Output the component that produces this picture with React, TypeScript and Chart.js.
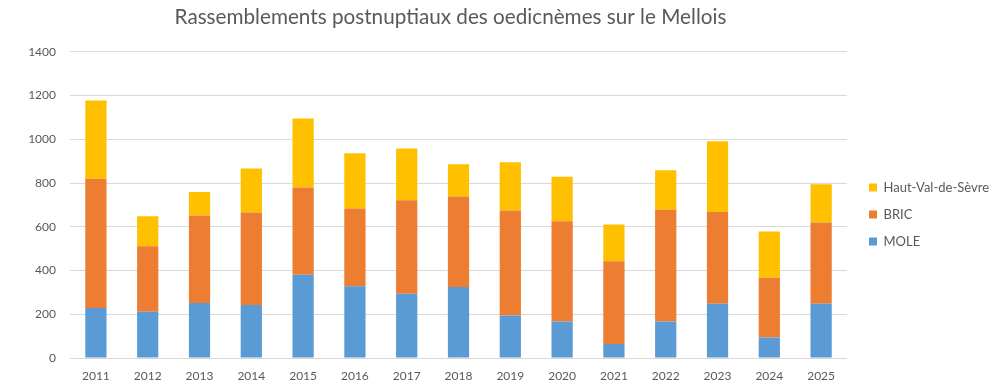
import React, { useEffect, useRef } from "react";
import { Chart, registerables } from "chart.js";

Chart.register(...registerables);

const years = ["2011","2012","2013","2014","2015","2016","2017","2018","2019","2020","2021","2022","2023","2024","2025"];
const mole = [229, 212, 252, 242, 381, 328, 294, 325, 194, 167, 64, 167, 248, 94, 248];
const bric = [591, 299, 400, 423, 399, 356, 427, 413, 481, 458, 378, 511, 420, 273, 372];
const hautVal = [357, 137, 107, 201, 315, 252, 237, 148, 220, 204, 169, 180, 323, 212, 174];
const yTicks = [0, 200, 400, 600, 800, 1000, 1200, 1400];

const nudge = {
  id: "nudge",
  afterLayout(chart: any) {
    const l = chart.legend;
    if (l) {
      l.left += 8;
      l.right += 8;
      l.top += 20;
      l.bottom += 20;
    }
    const t = chart.titleBlock;
    if (t) {
      t.left -= 8;
      t.right -= 8;
    }
  },
};

export default function App() {
  const ref = useRef<HTMLCanvasElement | null>(null);
  useEffect(() => {
    if (!ref.current) return;
    const font = "Lato, 'Open Sans', sans-serif";
    const chart = new Chart(ref.current, {
      type: "bar",
      data: {
        labels: years,
        datasets: [
          { label: "MOLE", data: mole, backgroundColor: "#5b9bd5", barPercentage: 0.41, categoryPercentage: 1 },
          { label: "BRIC", data: bric, backgroundColor: "#ed7d31", barPercentage: 0.41, categoryPercentage: 1 },
          { label: "Haut-Val-de-Sèvre", data: hautVal, backgroundColor: "#ffc000", barPercentage: 0.41, categoryPercentage: 1 },
        ],
      },
      plugins: [nudge],
      options: {
        animation: false,
        responsive: false,
        layout: { padding: { left: 0, right: 2, top: 5, bottom: 5 } },
        plugins: {
          title: {
            display: true,
            fullSize: false,
            text: "Rassemblements postnuptiaux des oedicnèmes sur le Mellois",
            color: "#595959",
            font: { family: font, size: 20.7, weight: "normal" },
            padding: { top: 0, bottom: 22 },
          },
          legend: {
            position: "right",
            reverse: true,
            labels: {
              boxWidth: 8,
              boxHeight: 8,
              padding: 14,
              color: "#595959",
              font: { family: font, size: 13 },
            },
          },
          tooltip: { enabled: false },
        },
        scales: {
          x: {
            stacked: true,
            grid: { display: false, drawTicks: false },
            border: { display: false },
            ticks: { color: "#595959", font: { family: font, size: 12 }, padding: 11 },
            afterFit: (scale: any) => {
              scale.height = 26;
            },
          },
          y: {
            stacked: true,
            min: 0,
            max: 1400,
            afterBuildTicks: (scale: any) => {
              scale.ticks = yTicks.map((v) => ({ value: v }));
            },
            afterFit: (scale: any) => {
              scale.width = 70;
            },
            grid: { color: "#d9d9d9", drawTicks: false },
            border: { display: false },
            ticks: {
              color: "#595959",
              font: { family: font, size: 12 },
              padding: 14,
              callback: (v: any) => String(v),
            },
          },
        },
      },
    });
    return () => chart.destroy();
  }, []);
  return (
    <div style={{ position: "fixed", left: 0, top: 0, width: 993, height: 389, background: "#fff" }}>
      <canvas ref={ref} width={993} height={389} />
    </div>
  );
}
